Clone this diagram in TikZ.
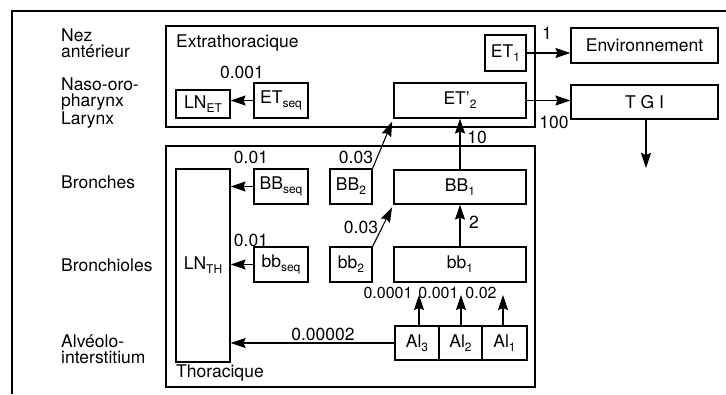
\documentclass[tikz,border=0pt]{standalone}
\usepackage{fontspec}
\setmainfont{TeX Gyre Heros}
\usetikzlibrary{arrows.meta}
\newcommand\sbs[1]{\raisebox{-0.22em}{\fontsize{12}{12}\selectfont #1}}
\begin{document}
\begin{tikzpicture}[x=1pt,y=-1pt,
  font=\fontsize{17.5}{16}\selectfont,
  box/.style={draw,line width=1.2pt,inner sep=0pt},
  region/.style={draw,line width=1.3pt,inner sep=0pt},
  arr/.style={line width=1.1pt,-{Stealth[length=15pt,width=10pt,inset=2pt]}},
  lbl/.style={inner sep=0pt},
  side/.style={inner sep=0pt,anchor=west,align=left}]
\useasboundingbox[fill=white] (0,0) rectangle (726,394);
% outer frame
\coordinate (fl) at (12,394);
\coordinate (ftl) at (12,11);
\coordinate (fr) at (726,11);
\draw[line width=1.2pt] (fl) -- (ftl) -- (fr);
% regions
\node[region,minimum width=369pt,minimum height=101pt] (ext) at (350.5,76.5) {};
\node[region,minimum width=369pt,minimum height=241pt] (thor) at (350.5,266.5) {};
\node[lbl,anchor=west] (extl) at (176,43) {Extrathoracique};
\node[lbl,anchor=west] (thorl) at (176,373) {Thoracique};
% side labels
\node[side] (s1) at (61,43) {Nez\\antérieur};
\node[side,font=\fontsize{17.5}{16}\selectfont] (s2) at (61,103) {Naso-oro-\\pharynx\\Larynx};
\node[side] (s3) at (61,182) {Bronches};
\node[side] (s4) at (61,265) {Bronchioles};
\node[side] (s5) at (61,349) {Alvéolo-\\interstitium};
% boxes
\node[box,minimum width=41pt,minimum height=36pt] (ET1) at (505.5,53) {ET\sbs{1}};
\node[box,minimum width=147pt,minimum height=35pt] (env) at (644.5,45.5) {Environnement};
\node[box,minimum width=132pt,minimum height=35pt] (ET2) at (460,100.5) {ET'\sbs{2}};
\node[box,minimum width=147pt,minimum height=34pt] (tgi) at (644.5,102) {T G I};
\node[box,minimum width=54pt,minimum height=28pt] (LNET) at (203,104) {LN\sbs{ET}};
\node[box,minimum width=54pt,minimum height=35pt] (ETseq) at (281,100.5) {ET\sbs{seq}};
\node[box,minimum width=54pt,minimum height=193pt] (LNTH) at (203,265.5) {LN\sbs{TH}};
\node[box,minimum width=54pt,minimum height=35pt] (BBseq) at (281,186.5) {BB\sbs{seq}};
\node[box,minimum width=42pt,minimum height=35pt] (BB2) at (351,186.5) {BB\sbs{2}};
\node[box,minimum width=132pt,minimum height=34pt] (BB1) at (460,187) {BB\sbs{1}};
\node[box,minimum width=54pt,minimum height=35pt] (bbseq) at (281,264.5) {bb\sbs{seq}};
\node[box,minimum width=42pt,minimum height=35pt] (bb2) at (351,264.5) {bb\sbs{2}};
\node[box,minimum width=132pt,minimum height=35pt] (bb1) at (460,264.5) {bb\sbs{1}};
\node[box,minimum width=44pt,minimum height=34pt] (AI3) at (417,343) {Al\sbs{3}};
\node[box,minimum width=43pt,minimum height=34pt] (AI2) at (460.5,343) {Al\sbs{2}};
\node[box,minimum width=45pt,minimum height=34pt] (AI1) at (504.5,343) {Al\sbs{1}};
% free ends
\coordinate (tgid) at (646,168);
\coordinate (t3) at (419,295);
\coordinate (t2) at (461,295);
\coordinate (t1) at (503,295);
% connectors
\draw[arr] (ET1.east) -- (ET1.east -| env.west);
\draw[arr] (ET2.east) -- (ET2.east -| tgi.west);
\draw[arr] (tgi.south -| tgid) -- (tgid);
\draw[arr] (ETseq.west) -- (ETseq.west -| LNET.east);
\draw[arr] (BBseq.west) -- (BBseq.west -| LNTH.east);
\draw[arr] (bbseq.west) -- (bbseq.west -| LNTH.east);
\draw[arr] (AI3.west) -- (AI3.west -| LNTH.east);
\draw[arr] (BB1.north) -- (ET2.south);
\draw[arr] (bb1.north) -- (BB1.south);
\draw[arr,shorten >=3pt] (BB2.north east) -- (ET2.south west);
\draw[arr,shorten >=3pt] (bb2.north east) -- (BB1.south west);
\draw[arr] (AI3.north -| t3) -- (t3);
\draw[arr] (AI2.north -| t2) -- (t2);
\draw[arr] (AI1.north -| t1) -- (t1);
% rate labels
\node[lbl] (r1) at (547,33) {1};
\node[lbl] (r100) at (554,122) {100};
\node[lbl] (r001) at (242,72) {0.001};
\node[lbl] (r01a) at (251,157) {0.01};
\node[lbl] (r01b) at (251,240) {0.01};
\node[lbl] (r03a) at (356,157) {0.03};
\node[lbl] (r03b) at (361,227) {0.03};
\node[lbl] (r10) at (477,137) {10};
\node[lbl] (r2) at (474,222) {2};
\node[lbl,font=\fontsize{16}{16}\selectfont] (ra3) at (388,293) {0.0001};
\node[lbl,font=\fontsize{16}{16}\selectfont] (ra2) at (438.5,293) {0.001};
\node[lbl,font=\fontsize{16}{16}\selectfont] (ra1) at (481,293) {0.02};
\node[lbl] (rai) at (323,334) {0.00002};
\end{tikzpicture}
\end{document}
